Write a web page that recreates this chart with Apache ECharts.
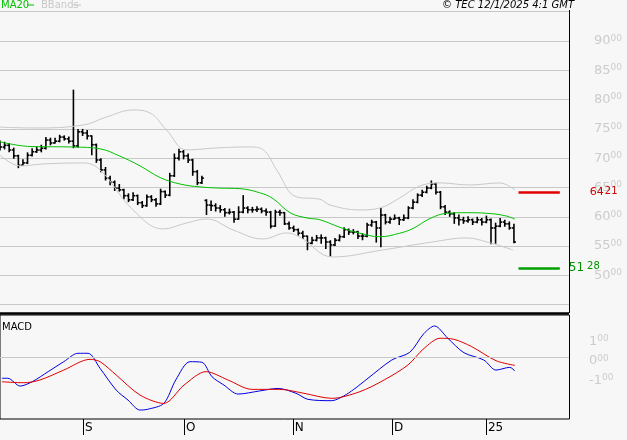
<!DOCTYPE html>
<html>
<head>
<meta charset="utf-8">
<script src="https://cdn.jsdelivr.net/npm/echarts@6/dist/echarts.min.js"></script>
<style>
  html, body { margin: 0; padding: 0; background: #f7f7f7; }
  #chart { width: 627px; height: 440px; }
</style>
</head>
<body>
<div id="chart"></div>
<script>
// daily bars: [open, high, low, close]
var bars = [
  [7250,7300,7130,7190],[7190,7280,7150,7220],[7220,7260,7100,7140],[7140,7180,6990,7040],
  [7040,7060,6830,6880],[6880,6980,6870,6920],[6920,7100,6900,7050],[7050,7170,7030,7110],
  [7110,7200,7090,7140],[7140,7230,7100,7170],[7170,7360,7150,7310],[7310,7350,7220,7260],
  [7260,7350,7250,7290],[7290,7400,7270,7360],[7360,7390,7300,7330],[7330,7370,7250,7290],
  [7290,8170,7170,7210],[7210,7500,7180,7450],[7450,7500,7380,7430],[7430,7480,7320,7380],
  [7380,7390,7050,7230],[7230,7250,6920,6970],[6970,7000,6760,6800],[6800,6850,6620,6660],
  [6660,6700,6540,6590],[6590,6620,6440,6490],[6490,6560,6430,6460],[6460,6480,6300,6360],
  [6360,6400,6250,6290],[6290,6420,6270,6360],[6360,6380,6200,6240],[6240,6270,6150,6190],
  [6190,6380,6170,6340],[6340,6370,6250,6290],[6290,6320,6170,6220],[6220,6480,6200,6430],
  [6430,6450,6320,6370],[6370,6750,6350,6700],[6700,7080,6680,7000],[7000,7160,6960,7110],
  [7110,7140,6980,7040],[7040,7080,6920,6970],[6970,6990,6700,6770],[6770,6800,6540,6580],
  [6580,6700,6560,6660],[6280,6300,6030,6200],[6200,6280,6100,6190],[6190,6230,6090,6150],
  [6150,6200,6070,6120],[6120,6150,6000,6070],[6070,6140,6040,6080],[6080,6100,5900,5960],
  [5960,6180,5950,6080],[6080,6370,6060,6150],[6150,6180,6060,6120],[6120,6170,6070,6120],
  [6120,6180,6080,6130],[6130,6160,6060,6100],[6100,6140,6020,6080],[6080,6100,5800,5840],
  [5840,6120,5830,6080],[6080,6120,6020,6070],[6070,6080,5860,5880],[5880,5920,5780,5810],
  [5810,5850,5740,5780],[5780,5800,5680,5720],[5720,5760,5620,5670],[5670,5680,5430,5550],
  [5550,5660,5530,5600],[5600,5690,5580,5640],[5640,5700,5540,5640],[5640,5660,5450,5570],
  [5570,5600,5320,5520],[5520,5640,5500,5600],[5600,5700,5580,5660],[5660,5820,5640,5780],
  [5780,5800,5690,5740],[5740,5790,5700,5740],[5740,5760,5620,5670],[5670,5720,5600,5670],
  [5670,5900,5650,5860],[5860,5950,5830,5910],[5910,5930,5560,5810],[5810,6150,5480,6030],
  [6030,6050,5870,5910],[5910,6000,5880,5960],[5960,6040,5950,5980],[5980,6000,5860,5950],
  [5950,6040,5930,5980],[5980,6180,5960,6150],[6150,6300,6130,6250],[6250,6400,6230,6370],
  [6370,6460,6340,6420],[6420,6530,6400,6490],[6490,6620,6470,6560],[6560,6580,6380,6420],
  [6420,6440,6130,6170],[6170,6200,6030,6080],[6080,6110,6000,6050],[6050,6080,5880,5980],
  [5980,6040,5850,5950],[5950,6000,5880,5930],[5930,6010,5900,5950],[5950,5970,5860,5910],
  [5910,6000,5890,5950],[5950,5980,5850,5910],[5910,6020,5890,5950],[5950,5970,5530,5810],
  [5810,5900,5540,5840],[5840,5980,5820,5910],[5910,5950,5830,5880],[5880,5920,5780,5810],
  [5810,5880,5550,5570]
];
// [bar index, value]
var ma20 = [[0,7280],[6.5,7200],[16.3,7190],[21.8,7160],[26,7040],[30.5,6870],[34.9,6670],
  [39.2,6560],[43.6,6510],[47.9,6490],[52.3,6480],[56.6,6410],[59.5,6310],[63.2,6070],
  [66.9,5980],[69.7,5950],[74.1,5820],[78.4,5720],[82.8,5660],[87.1,5720],[90,5800],
  [93.7,5970],[97.4,6060],[101.7,6070],[106.1,6060],[110,6020],[112.2,5960]];
var bbUpper = [[0,7530],[7.3,7516],[18.2,7567],[23.2,7703],[29,7823],[32.7,7772],[36.3,7482],
  [40.7,7141],[47.2,7175],[54.5,7192],[57.4,7141],[60.3,6800],[64.6,6339],[69.7,6300],
  [71.9,6202],[78.4,6117],[82.8,6151],[87.1,6322],[91.5,6526],[95.9,6578],[102.4,6543],
  [108.9,6578],[112.2,6458]];
var bbLower = [[0,7055],[4.4,6868],[9.4,6902],[18.1,6919],[21.8,6800],[29,6117],[35.5,5793],
  [40.7,5895],[45.1,5963],[50.8,5776],[57.3,5622],[62.5,5725],[65.4,5650],[72.5,5315],
  [83.4,5434],[94.3,5571],[101.7,5639],[106.1,5571],[111.8,5434]];
var macd = [[0.4,-1.09],[1.7,-1.09],[4.4,-1.49],[7,-1.27],[10.5,-0.75],[13.9,-0.24],[17,0.19],
  [19.2,0.19],[21.8,-0.58],[25.3,-1.69],[27.9,-2.21],[30.5,-2.72],[32.2,-2.68],[35.7,-2.38],
  [38.3,-1.18],[41.4,-0.24],[44,-0.27],[46.2,-1.01],[48.8,-1.44],[51.9,-1.9],[56.6,-1.74],
  [60.6,-1.61],[64.5,-1.86],[67.1,-2.17],[72.3,-2.24],[74.9,-2.0],[77.1,-1.66],[80.2,-1.09],
  [85.4,-0.15],[89.3,0.24],[92.4,1.21],[94.7,1.59],[97.6,0.96],[101.1,0.22],[105.4,-0.15],
  [108.1,-0.67],[111.1,-0.53],[112.2,-0.72]];
var signal = [[0.4,-1.27],[5.2,-1.32],[8.7,-1.18],[13.9,-0.67],[19.6,-0.12],[21.8,-0.24],
  [25.3,-0.92],[30.5,-1.95],[35.7,-2.38],[40.1,-1.44],[44.9,-0.75],[49.7,-1.18],[54.9,-1.66],
  [61,-1.66],[66.2,-1.86],[72.3,-2.12],[78.4,-1.78],[83.7,-1.18],[88.9,-0.41],[92.4,0.44],
  [95.9,0.96],[98.9,0.91],[102.8,0.53],[108.1,-0.19],[112.2,-0.43]];
var monthTicks = [18.1, 40.1, 63.8, 85.4, 105.9];
var monthLabels = ['S', 'O', 'N', 'D', '25'];
var resistance = 6421, support = 5128;

var chart = echarts.init(document.getElementById('chart'));
var font = 'DejaVu Sans';

var rich = {
  a: { fontSize: 13, color: '#cccccc', fontFamily: font },
  b: { fontSize: 9, color: '#cccccc', fontFamily: font, padding: [0, 0, 5, 0] }
};

var option = {
  backgroundColor: '#f7f7f7',
  animation: false,
  grid: [
    { left: 0, width: 569, top: 11.7, height: 293 },
    { left: 0, width: 569, top: 318, height: 97.5 }
  ],
  graphic: [
    { type: 'text', left: 1, top: 0, style: { text: 'MA20', fill: '#00c000', font: '10px ' + font } },
    { type: 'line', shape: { x1: 27, y1: 5, x2: 34, y2: 5 }, style: { stroke: '#00c000', lineWidth: 1 } },
    { type: 'text', left: 41, top: 0, style: { text: 'BBands', fill: '#c8c8c8', font: '10px ' + font } },
    { type: 'line', shape: { x1: 73, y1: 5, x2: 81, y2: 5 }, style: { stroke: '#c8c8c8', lineWidth: 1 } },
    { type: 'text', right: 53, top: 0, style: { text: '© TEC 12/1/2025 4:1 GMT', fill: '#000', font: 'italic 10px ' + font } },
    { type: 'line', shape: { x1: 0, y1: 313.5, x2: 569, y2: 313.5 }, style: { stroke: '#000', lineWidth: 2.5 } },
    { type: 'line', shape: { x1: 569.5, y1: 10, x2: 569.5, y2: 313 }, style: { stroke: '#000', lineWidth: 1 } },
    { type: 'rect', shape: { x: 0, y: 315, width: 569.5, height: 104 }, style: { fill: 'none', stroke: '#000', lineWidth: 1 } },
    { type: 'text', left: 2, top: 322, style: { text: 'MACD', fill: '#000', font: '10px ' + font } }
  ],
  xAxis: [
    { type: 'value', gridIndex: 0, min: 0, max: 124, show: false },
    {
      type: 'value', gridIndex: 1, min: 0, max: 124, position: 'bottom', offset: 3.5,
      splitLine: { show: false },
      axisLine: { show: false, onZero: false },
      axisTick: { show: true, customValues: monthTicks, length: 16, inside: false, lineStyle: { color: '#000' } },
      axisLabel: {
        customValues: monthTicks, color: '#000', fontSize: 12, fontFamily: font, margin: 3,
        align: 'left', padding: [0, 0, 0, 2],
        formatter: function (v) {
          var k = monthTicks.indexOf(v);
          return k >= 0 ? monthLabels[k] : '';
        }
      }
    }
  ],
  yAxis: [
    {
      type: 'value', gridIndex: 0, position: 'right', min: 4500, max: 9500, interval: 500,
      axisLine: { show: false, onZero: false },
      axisTick: { show: false },
      splitLine: { lineStyle: { color: '#c8c8c8' } },
      axisLabel: {
        margin: 25, rich: rich,
        formatter: function (v) {
          return (v >= 5000 && v <= 9000) ? '{a|' + v / 100 + '}{b|00}' : '';
        }
      }
    },
    {
      type: 'value', gridIndex: 1, position: 'right', min: -3, max: 2, interval: 1,
      axisLine: { show: false, onZero: false }, axisTick: { show: false }, splitLine: { show: false },
      axisLabel: {
        margin: 20, rich: rich, padding: [8, 0, 0, 0],
        formatter: function (v) {
          if (Math.abs(v) > 1) return '';
          return '{a|' + (v < 0 ? '-' : '') + Math.abs(v) + '}{b|00}';
        }
      }
    }
  ],
  series: [
    {
      type: 'line', xAxisIndex: 0, yAxisIndex: 0, data: bbUpper, smooth: 0.4, symbol: 'none',
      lineStyle: { color: '#c8c8c8', width: 1 }
    },
    {
      type: 'line', xAxisIndex: 0, yAxisIndex: 0, data: bbLower, smooth: 0.4, symbol: 'none',
      lineStyle: { color: '#c8c8c8', width: 1 }
    },
    {
      type: 'line', xAxisIndex: 0, yAxisIndex: 0, data: ma20, smooth: 0.4, symbol: 'none',
      lineStyle: { color: '#00c000', width: 1 }
    },
    {
      type: 'custom', xAxisIndex: 0, yAxisIndex: 0,
      data: bars.map(function (b, i) { return [i, b[0], b[1], b[2], b[3]]; }),
      encode: { x: 0, y: [1, 2, 3, 4] },
      renderItem: function (params, api) {
        var x = api.value(0);
        var o = api.coord([x, api.value(1)]);
        var h = api.coord([x, api.value(2)]);
        var l = api.coord([x, api.value(3)]);
        var c = api.coord([x, api.value(4)]);
        var st = { stroke: '#000', lineWidth: 1.6 };
        return {
          type: 'group',
          children: [
            { type: 'line', shape: { x1: h[0], y1: h[1], x2: l[0], y2: l[1] }, style: st },
            { type: 'line', shape: { x1: o[0] - 2, y1: o[1], x2: o[0], y2: o[1] }, style: st },
            { type: 'line', shape: { x1: c[0], y1: c[1], x2: c[0] + 2, y2: c[1] }, style: st }
          ]
        };
      },
      markLine: {
        silent: true, symbol: 'none',
        data: [
          [
            { coord: [113, resistance], lineStyle: { color: '#e00000', width: 2.5, type: 'solid' },
              label: { show: true, position: 'end', distance: 30, color: '#d00000', fontSize: 11, fontFamily: font,
                formatter: '64{s|21}', rich: { s: { fontSize: 10, color: '#d00000', padding: [0, 0, 2, 1] } } } },
            { coord: [122, resistance] }
          ],
          [
            { coord: [113, support], lineStyle: { color: '#00a000', width: 2.5, type: 'solid' },
              label: { show: true, position: 'end', distance: 9, color: '#009000', fontSize: 12, fontFamily: font,
                formatter: '51{s|28}', rich: { s: { fontSize: 10, color: '#009000', padding: [0, 0, 3, 3] } } } },
            { coord: [122, support] }
          ]
        ]
      }
    },
    {
      type: 'line', xAxisIndex: 1, yAxisIndex: 1, data: macd, smooth: 0.3, symbol: 'none',
      lineStyle: { color: '#0000e0', width: 1 },
      markLine: {
        silent: true, symbol: 'none', label: { show: false },
        lineStyle: { color: '#c8c8c8', type: 'solid', width: 1 },
        data: [{ yAxis: 0 }]
      }
    },
    {
      type: 'line', xAxisIndex: 1, yAxisIndex: 1, data: signal, smooth: 0.3, symbol: 'none',
      lineStyle: { color: '#e00000', width: 1 }
    }
  ]
};
chart.setOption(option);
</script>
</body>
</html>
